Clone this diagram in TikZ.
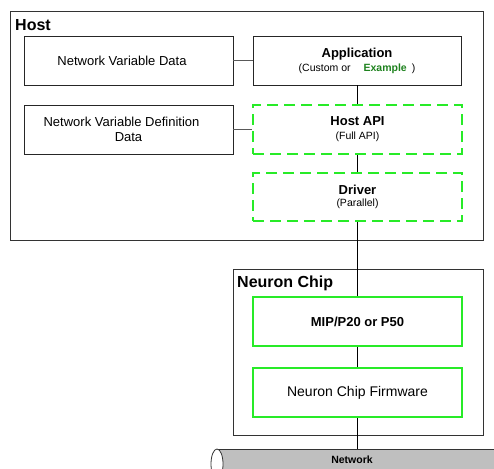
\documentclass[tikz,border=0pt]{standalone}
\usepackage{fontspec}
\setmainfont{Liberation Sans}
\definecolor{brightgreen}{RGB}{40,235,40}
\definecolor{exgreen}{RGB}{30,130,30}
\tikzset{
  boxbase/.style={rectangle, inner sep=0pt, align=center, font=\fontsize{13}{14}\selectfont},
  plainbox/.style={boxbase, draw=black!85, line width=0.8pt},
  container/.style={boxbase, draw=black!80, line width=0.9pt},
  greenbox/.style={boxbase, draw=brightgreen, line width=2pt},
  dashbox/.style={greenbox, dash pattern=on 11pt off 6pt},
  conn/.style={draw=black, line width=0.8pt},
  sideconn/.style={draw=black!65, line width=0.9pt},
  title/.style={anchor=west, inner sep=0pt, font=\fontsize{16}{18}\selectfont\bfseries},
}
\newcommand{\bigb}{\bfseries}
\newcommand{\smallr}{\fontsize{10.5}{14}\selectfont}
\begin{document}
\begin{tikzpicture}[x=1pt,y=-1pt]
\useasboundingbox (0,0) rectangle (494,468);
% containers
\node[container, minimum width=473pt, minimum height=229pt] (host) at (246.5,125.5) {};
\node[title] (hostlbl) at (15,25) {Host};
\node[container, minimum width=250pt, minimum height=166pt] (chip) at (358,352) {};
\node[title] (chiplbl) at (237,283) {Neuron Chip};
% host boxes
\node[plainbox, minimum width=209pt, minimum height=49pt] (nvd) at (128.5,60.5) {Network Variable Data\hspace*{13pt}};
\node[plainbox, minimum width=208pt, minimum height=49pt] (app) at (357,60.5)
  {{\bigb Application}\\{\smallr (Custom or\hspace{13pt}{\color{exgreen}\bfseries Example}\hspace{5pt})}};
\node[plainbox, minimum width=209pt, minimum height=49pt, font=\fontsize{13}{15}\selectfont] (nvdd) at (128.5,129.5)
  {Network Variable Definition\hspace*{14pt}\\Data};
\node[dashbox, minimum width=209pt, minimum height=49pt] (api) at (357.5,129.5)
  {{\bigb Host API}\\{\smallr (Full API)}};
\node[dashbox, minimum width=209pt, minimum height=48pt] (drv) at (357.5,197)
  {{\bigb Driver}\\[-1.5pt]{\smallr (Parallel)}};
% chip boxes
\node[greenbox, minimum width=209pt, minimum height=49pt, font=\fontsize{13}{15}\selectfont\bfseries] (mip) at (357.5,321.5) {MIP/P20 or P50};
\node[greenbox, minimum width=209pt, minimum height=49pt, font=\fontsize{14}{16}\selectfont] (fw) at (357.5,392.5) {\raisebox{-1.5pt}{Neuron Chip Firmware}};
% network cylinder
\begin{scope}
\clip (0,0) rectangle (494,468);
\fill[gray!50] (217,449) rectangle (500,480);
\draw[black!80, line width=0.8pt] (217,449) -- (500,449);
\draw[black!80, line width=0.8pt, fill=white] (217,464) ellipse [x radius=6, y radius=15];
\end{scope}
\coordinate (nettop) at (357,449);
\node[inner sep=0pt, font=\fontsize{10.5}{12}\selectfont\bfseries] (netlbl) at (352,460) {Network};
% connectors
\draw[sideconn] (nvd.east) -- (app.west);
\draw[sideconn] (nvdd.east) -- (api.west);
\draw[conn] (app.south) -- (app.south |- api.north);
\draw[conn] (app.south |- api.south) -- (app.south |- drv.north);
\draw[conn] (app.south |- drv.south) -- (app.south |- mip.north);
\draw[conn] (app.south |- mip.south) -- (app.south |- fw.north);
\draw[conn] (app.south |- fw.south) -- (nettop);
\end{tikzpicture}
\end{document}
